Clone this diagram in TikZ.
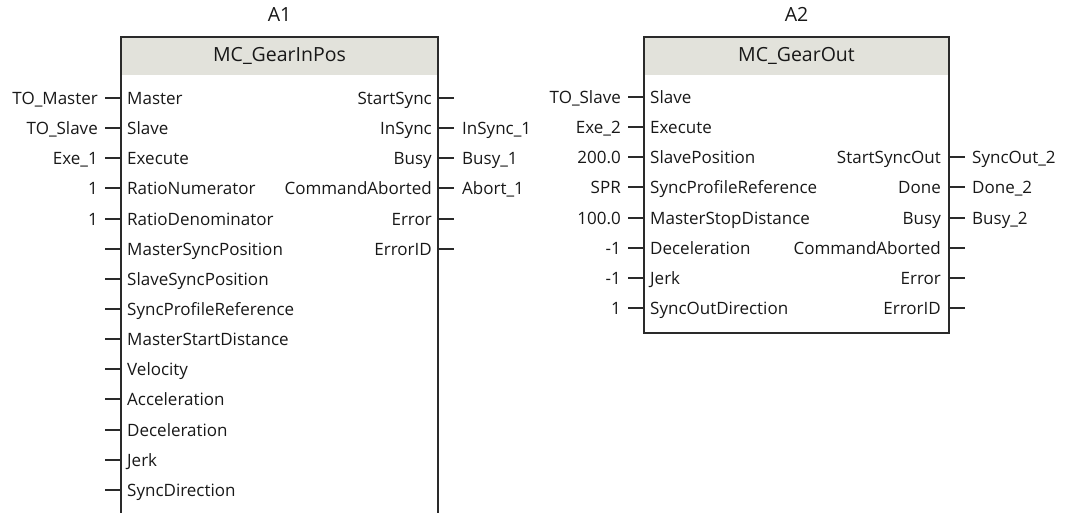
\documentclass[tikz,border=0pt]{standalone}
\usepackage{fontspec}
\setmainfont{Open Sans}
\usepackage{tikz}

\definecolor{txt}{HTML}{181818}
\definecolor{edge}{HTML}{2A2A2A}
\definecolor{headgray}{HTML}{E2E2DB}

\begin{document}
\begin{tikzpicture}[x=1pt, y=-1pt,
  every node/.style={font=\fontsize{17}{20}\selectfont, text=txt, inner sep=0pt,
    text height=16.5pt, text depth=4pt},
  title/.style={font=\fontsize{19.5}{22}\selectfont, text height=18pt, text depth=4pt},
  block/.style={draw=edge, line width=2pt, anchor=north west,
    path picture={\fill[headgray] (path picture bounding box.north west)
      rectangle ([yshift=-38pt]path picture bounding box.north east);}},
  stub/.style={draw=edge, line width=2pt}]
  \useasboundingbox (0,0) rectangle (1070,513);

  % A1 : MC_GearInPos
  \node (gearin) [block, minimum width=317pt, minimum height=477pt] at (120,36) {};
  \node (gearin-title) [title] at ([yshift=-19pt]gearin.north) {MC\_GearInPos};
  \node (inst1) [title] at ([yshift=21pt]gearin.north) {A1};
  \foreach \pin/\act [count=\i] in {Master/TO\_Master, Slave/TO\_Slave, Execute/Exe\_1,
      RatioNumerator/1, RatioDenominator/1, MasterSyncPosition/{}, SlaveSyncPosition/{},
      SyncProfileReference/{}, MasterStartDistance/{}, Velocity/{}, Acceleration/{},
      Deceleration/{}, Jerk/{}, SyncDirection/{}} {
    \node (gi\i) [anchor=west] at (127,{round(98+30.15*(\i-1))}) {\pin};
    \draw[stub] (gearin.west |- gi\i) -- ++(-15,0) coordinate (gi\i-end);
    \node (ga\i) [anchor=east] at ([xshift=-7pt]gi\i-end) {\act};
  }
  \foreach \pin/\act [count=\i] in {StartSync/{}, InSync/InSync\_1, Busy/Busy\_1,
      CommandAborted/Abort\_1, Error/{}, ErrorID/{}} {
    \node (go\i) [anchor=east] at (432,{round(98+30.15*(\i-1))}) {\pin};
    \draw[stub] (gearin.east |- go\i) -- ++(15,0) coordinate (go\i-end);
    \node (gq\i) [anchor=west] at ([xshift=8pt]go\i-end) {\act};
  }

  % A2 : MC_GearOut
  \node (gearout) [block, minimum width=305pt, minimum height=296pt] at (643,36) {};
  \node (gearout-title) [title] at ([yshift=-19pt]gearout.north) {MC\_GearOut};
  \node (inst2) [title] at ([yshift=21pt]gearout.north) {A2};
  \foreach \pin/\act [count=\i] in {Slave/TO\_Slave, Execute/Exe\_2, SlavePosition/200.0,
      SyncProfileReference/SPR, MasterStopDistance/100.0, Deceleration/-1, Jerk/-1,
      SyncOutDirection/1} {
    \node (oi\i) [anchor=west] at (650,{round(97+30.15*(\i-1))}) {\pin};
    \draw[stub] (gearout.west |- oi\i) -- ++(-15,0) coordinate (oi\i-end);
    \node (oa\i) [anchor=east] at ([xshift=-7pt]oi\i-end) {\act};
  }
  \foreach \pin/\act [count=\i from 3] in {StartSyncOut/SyncOut\_2, Done/Done\_2, Busy/Busy\_2,
      CommandAborted/{}, Error/{}, ErrorID/{}} {
    \node (oo\i) [anchor=east] at (941,{round(97+30.15*(\i-1))}) {\pin};
    \draw[stub] (gearout.east |- oo\i) -- ++(15,0) coordinate (oo\i-end);
    \node (oq\i) [anchor=west] at ([xshift=7pt]oo\i-end) {\act};
  }
\end{tikzpicture}
\end{document}
